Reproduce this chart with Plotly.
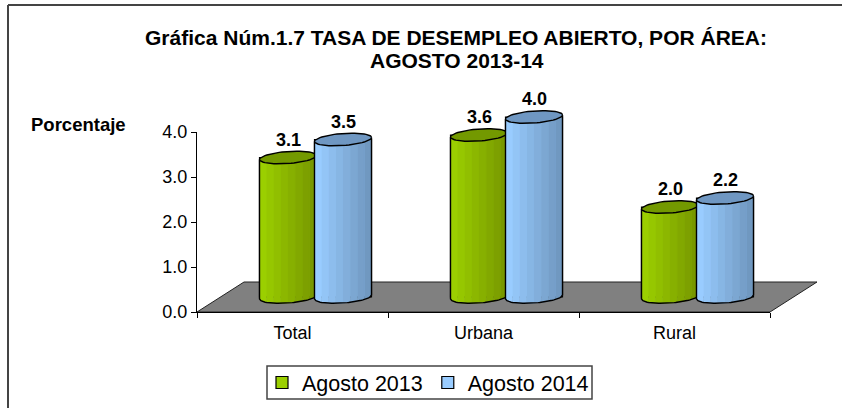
import numpy as np
import plotly.graph_objects as go

# ---- data ----
categories = ["Total", "Urbana", "Rural"]
agosto_2013 = [3.1, 3.6, 2.0]
agosto_2014 = [3.5, 4.0, 2.2]
y_ticks = [0, 1, 2, 3, 4]
y_tick_labels = ["0.0", "1.0", "2.0", "3.0", "4.0"]
title_line1 = "<b>Gráfica Núm.1.7 TASA DE DESEMPLEO ABIERTO, POR ÁREA:</b>"
title_line2 = "<b>AGOSTO 2013-14</b>"

# ---- geometry (pixels of the 842x408 page) ----
W, H = 842, 408
PX_PER_UNIT = 45.0
PX_PER_CAT = 191.0
AX_L, AX_R, AX_T, AX_B = 197, 770, 132, 312
SHIFT_X, SHIFT_Y = 23, 15          # depth shift of the cylinders on the floor
HALF_W = 28.5                      # cylinder half width
OFFSET = 27.5 / PX_PER_CAT         # cylinder centre from category centre
B_PX, K_PX = 6.0, 2.0              # ellipse half height and tilt

def fx(p): return p / W
def fy(p): return 1 - p / H

a = HALF_W / PX_PER_CAT
b = B_PX / PX_PER_UNIT
k = K_PX / PX_PER_UNIT

def lerp(c0, c1, n):
    return [f"rgb({int(round(c0[0]+(c1[0]-c0[0])*i/(n-1)))},{int(round(c0[1]+(c1[1]-c0[1])*i/(n-1)))},{int(round(c0[2]+(c1[2]-c0[2])*i/(n-1)))})" for i in range(n)]

BANDS = 8
green_bands = lerp((155, 207, 0), (120, 152, 0), BANDS)
blue_bands = lerp((153, 204, 255), (112, 152, 192), BANDS)
green_top, blue_top = "#739900", "#6f97c2"
edges = np.linspace(-1, 1, BANDS + 1)

fig = go.Figure()

# invisible carrier for the category axis
fig.add_trace(go.Scatter(x=categories, y=[0] * 3, mode="none", showlegend=False,
                         hoverinfo="skip", xaxis="x", yaxis="y"))

def lower(u):
    return k * u - b * np.sqrt(np.clip(1 - u * u, 0, 1))

def cylinder_series(name, values, sign, bands, top_color):
    idx = np.arange(len(values))
    centres = idx + sign * OFFSET
    # real bars: scale + legend entry
    fig.add_trace(go.Bar(x=idx, y=values, name=name, width=2 * a, offset=sign * OFFSET - a,
                         marker=dict(color=bands[0], line=dict(color="#000", width=1.2)),
                         xaxis="x2", yaxis="y2"))
    # shaded bands
    for i, col in enumerate(bands):
        xs, ys = [], []
        u = np.linspace(edges[i], edges[i + 1], 6)
        for c, v in zip(centres, values):
            xs += list(c + a * u) + list(c + a * u[::-1]) + [None]
            ys += list(lower(u)) + list(v + lower(u[::-1])) + [None]
        fig.add_trace(go.Scatter(x=xs, y=ys, mode="lines", fill="toself", fillcolor=col,
                                 line=dict(width=0.6, color=col), showlegend=False,
                                 hoverinfo="skip", xaxis="x2", yaxis="y2"))
    # outline + top ellipse
    t = np.linspace(0, 2 * np.pi, 61)
    ox, oy, ex, ey = [], [], [], []
    um = np.linspace(-1, 1, 41)
    for c, v in zip(centres, values):
        ox += [c - a] + list(c + a * um) + [c + a] + [None]
        oy += [v + lower(np.array(-1.0))] + list(lower(um)) + [v + lower(np.array(1.0))] + [None]
        ex += list(c + a * np.cos(t)) + [None]
        ey += list(v + k * np.cos(t) + b * np.sin(t)) + [None]
    fig.add_trace(go.Scatter(x=ox, y=oy, mode="lines", line=dict(color="#000", width=1.4),
                             showlegend=False, hoverinfo="skip", xaxis="x2", yaxis="y2"))
    fig.add_trace(go.Scatter(x=ex, y=ey, mode="lines", fill="toself", fillcolor=top_color,
                             line=dict(color="#000", width=1.4), showlegend=False,
                             hoverinfo="skip", xaxis="x2", yaxis="y2"))
    for c, v in zip(centres, values):
        fig.add_annotation(x=c, y=v, xref="x2", yref="y2", text=f"<b>{v:.1f}</b>", showarrow=False,
                           xanchor="center", yshift=18,
                           font=dict(family="Liberation Sans", size=18, color="#000"))

cylinder_series("Agosto 2013", agosto_2013, -1, green_bands, green_top)
cylinder_series("Agosto 2014", agosto_2014, +1, blue_bands, blue_top)

# floor, frame and legend box
floor = [(197, 312), (244, 282), (817, 282), (770, 312)]
floor_path = "M " + " L ".join(f"{fx(x)},{fy(y)}" for x, y in floor) + " Z"
FRAME = dict(color="#444", width=2)
shapes = [
    dict(type="path", xref="paper", yref="paper", path=floor_path, fillcolor="#808080",
         line=dict(width=1, color="#222"), layer="below"),
    dict(type="line", xref="paper", yref="paper", x0=fx(8), y0=fy(5), x1=fx(850), y1=fy(5),
         line=FRAME, layer="below"),
    dict(type="line", xref="paper", yref="paper", x0=fx(8), y0=fy(5), x1=fx(8), y1=fy(420),
         line=FRAME, layer="below"),
    dict(type="rect", xref="paper", yref="paper", x0=fx(267), y0=fy(366), x1=fx(592), y1=fy(399),
         line=dict(color="#444", width=1.5), layer="below"),
]

font = "Liberation Sans"
fig.add_annotation(x=fx(78), y=fy(124), xref="paper", yref="paper", text="<b>Porcentaje</b>", showarrow=False,
                   xanchor="center", yanchor="middle", font=dict(family=font, size=18.5, color="#000"))
fig.add_annotation(x=fx(457), y=fy(60), xref="paper", yref="paper", text=title_line2, showarrow=False,
                   xanchor="center", yanchor="middle", font=dict(family=font, size=21, color="#000"))

fig.update_layout(
    width=W, height=H, autosize=False,
    margin=dict(l=0, r=0, t=0, b=0, autoexpand=False),
    paper_bgcolor="#fff", plot_bgcolor="rgba(0,0,0,0)",
    barmode="overlay",
    shapes=shapes,
    title=dict(text=title_line1, x=456 / W, xanchor="center", y=fy(38), yanchor="middle",
               font=dict(family=font, size=21, color="#000")),
    font=dict(family=font, color="#000"),
    xaxis=dict(domain=[fx(AX_L), fx(AX_R)], type="category", categoryarray=categories,
               categoryorder="array", tickson="boundaries", ticks="outside", ticklen=5,
               ticklabelstandoff=4, tickcolor="#000", showline=True, linecolor="#000", linewidth=1,
               showgrid=False, zeroline=False, tickfont=dict(size=18), anchor="y",
               range=[-0.5, 2.5], fixedrange=True),
    yaxis=dict(domain=[fy(AX_B), fy(AX_T)], range=[0, 4], tickvals=y_ticks, ticktext=y_tick_labels,
               ticks="outside", ticklen=5, tickcolor="#000", showline=True, linecolor="#000",
               linewidth=1, showgrid=False, zeroline=False, tickfont=dict(size=18), anchor="x", fixedrange=True),
    xaxis2=dict(domain=[fx(AX_L + SHIFT_X), fx(AX_R + SHIFT_X)], range=[-0.5, 2.5],
                visible=False, anchor="y2", fixedrange=True),
    yaxis2=dict(domain=[fy(AX_B - SHIFT_Y + 0.5 * PX_PER_UNIT), fy(AX_T - SHIFT_Y - 1 * PX_PER_UNIT)],
                range=[-0.5, 5], visible=False, anchor="x2", fixedrange=True),
    legend=dict(orientation="h", x=428 / W, xanchor="center", y=fy(382.5), yanchor="middle",
                bgcolor="rgba(0,0,0,0)", borderwidth=0,
                font=dict(size=21.5, color="#000"), itemwidth=30, traceorder="normal"),
)

fig.write_html("out.html", config=dict(displayModeBar=False),
               post_script="document.body.style.margin='0';document.documentElement.style.overflow='hidden';")
